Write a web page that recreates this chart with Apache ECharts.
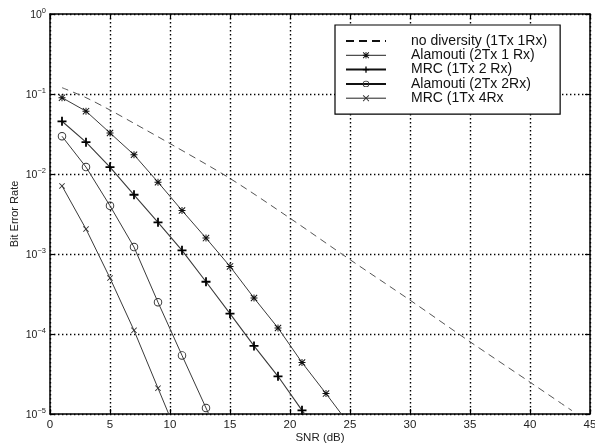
<!DOCTYPE html>
<html><head><meta charset="utf-8">
<script src="https://cdn.jsdelivr.net/npm/echarts@6/dist/echarts.min.js"></script>
<style>html,body{margin:0;padding:0;background:#fff}#c{width:595px;height:446px}</style>
</head><body><div id="c"></div>
<script>
// ---- data ----
const xTicks = [0, 5, 10, 15, 20, 25, 30, 35, 40, 45];
const yTickExponents = [0, -1, -2, -3, -4, -5];

const seriesNames = ['no diversity (1Tx 1Rx)', 'Alamouti (2Tx 1 Rx)', 'MRC (1Tx 2 Rx)', 'Alamouti (2Tx 2Rx)', 'MRC (1Tx 4Rx'];

const snrNoDiv = [1, 3, 5, 7, 10, 15, 20, 25, 30, 35, 40, 43.5];
const berNoDiv = [0.12, 0.09, 0.063, 0.043, 0.024, 0.0088, 0.0028, 0.00085, 0.000265, 0.00008, 0.000025, 0.000011];

const snrAla21 = [1, 3, 5, 7, 9, 11, 13, 15, 17, 19, 21, 23, 25];
const berAla21 = [0.09, 0.061, 0.0326, 0.0174, 0.0079, 0.0035, 0.00158, 0.0007, 0.000282, 0.000119, 0.000044, 0.000018, 0.0000072];

const snrMrc2 = [1, 3, 5, 7, 9, 11, 13, 15, 17, 19, 21, 23];
const berMrc2 = [0.0456, 0.025, 0.0122, 0.0055, 0.00249, 0.00111, 0.00045, 0.00018, 0.000071, 0.0000296, 0.0000111, 0.0000045];

const snrAla22 = [1, 3, 5, 7, 9, 11, 13, 15];
const berAla22 = [0.0296, 0.0122, 0.004, 0.00122, 0.000249, 0.000054, 0.0000119, 0.0000026];

const snrMrc4 = [1, 3, 5, 7, 9, 11];
const berMrc4 = [0.0071, 0.00205, 0.0005, 0.000111, 0.000021, 0.000004];

// ---- chart ----
const zip = (xs, ys) => xs.map((x, i) => [x, ys[i]]);
const FONT = '"Liberation Sans", Arial, Helvetica, sans-serif';
const LINE = '#3a3a3a';

const symPlus = 'path://M4,0H6V4H10V6H6V10H4V6H0V4H4Z';
const symX = 'path://M0,1L1,0L5,4L9,0L10,1L6,5L10,9L9,10L5,6L1,10L0,9L4,5Z';
const symStar = 'path://M4.3,0H5.7V10H4.3Z M0,4.3H10V5.7H0Z M1,0L10,9L9,10L0,1Z M9,0L10,1L1,10L0,9Z';
const symRing = 'path://M0,5A5,5 0 1,1 10,5A5,5 0 1,1 0,5Z M1.1,5A3.9,3.9 0 1,0 8.9,5A3.9,3.9 0 1,0 1.1,5Z';

const gridDots = { show: true, lineStyle: { color: '#000', width: 1.4, type: [1.4, 2.6] } };
const boxLine = { show: true, onZero: false, lineStyle: { color: '#000', width: 1.5 } };
const inTick = { show: true, inside: true, length: 5, lineStyle: { color: '#000', width: 1.2 } };

const chart = echarts.init(document.getElementById('c'), null, { renderer: 'canvas' });
chart.setOption({
  animation: false,
  backgroundColor: '#fff',
  textStyle: { fontFamily: FONT },
  grid: { left: 50, right: 5, top: 14, bottom: 32, containLabel: false, outerBoundsMode: 'none' },
  legend: {
    orient: 'vertical',
    left: 335, top: 25,
    padding: [9, 13, 9, 10],
    backgroundColor: '#fff',
    borderColor: '#000', borderWidth: 1.2,
    itemWidth: 40, itemHeight: 8, itemGap: 0.3,
    textStyle: { fontFamily: FONT, fontSize: 14, lineHeight: 14, color: '#111', padding: [0, 0, 0, 20] },
    data: [
      { name: seriesNames[0], itemStyle: { color: 'rgba(0,0,0,0)', borderColor: 'rgba(0,0,0,0)', borderWidth: 0 },
        lineStyle: { color: '#111', width: 2, type: [8, 5] } },
      { name: seriesNames[1], lineStyle: { color: '#222', width: 1 } },
      { name: seriesNames[2], lineStyle: { color: '#111', width: 2 } },
      { name: seriesNames[3], lineStyle: { color: '#111', width: 2 } },
      { name: seriesNames[4], lineStyle: { color: '#222', width: 1 } }
    ]
  },
  xAxis: [{
    type: 'value', min: 0, max: 45, interval: 5,
    name: 'SNR (dB)', nameLocation: 'middle', nameGap: 18, nameMoveOverlap: false,
    nameTextStyle: { fontFamily: FONT, fontSize: 11.5, color: '#222' },
    axisLine: boxLine, axisTick: inTick,
    axisLabel: { fontFamily: FONT, fontSize: 11.5, color: '#222', margin: 5,
      formatter: v => xTicks.includes(v) ? String(v) : '' },
    splitLine: gridDots
  }, {
    type: 'value', min: 0, max: 45, interval: 5, position: 'top',
    axisLine: boxLine, axisTick: inTick,
    axisLabel: { show: false }, splitLine: { show: false }
  }],
  yAxis: [{
    type: 'log', logBase: 10, min: 1e-5, max: 1,
    name: 'Bit Error Rate', nameLocation: 'middle', nameGap: 30, nameRotate: 90, nameMoveOverlap: false,
    nameTextStyle: { fontFamily: FONT, fontSize: 11, color: '#222' },
    axisLine: boxLine, axisTick: inTick,
    axisLabel: {
      margin: 4,
      formatter: v => {
        const e = Math.round(Math.log10(v));
        return yTickExponents.includes(e) ? '{b|10}{e|' + (e === 0 ? '0' : '\u2212' + Math.abs(e)) + '}' : '';
      },
      rich: {
        b: { fontFamily: FONT, fontSize: 10.5, color: '#222', verticalAlign: 'bottom', lineHeight: 14 },
        e: { fontFamily: FONT, fontSize: 7.5, color: '#222', verticalAlign: 'top', lineHeight: 14, padding: [0, 0, 7, 0] }
      }
    },
    splitLine: gridDots
  }, {
    type: 'log', logBase: 10, min: 1e-5, max: 1, position: 'right',
    axisLine: boxLine, axisTick: inTick,
    axisLabel: { show: false }, splitLine: { show: false }
  }],
  series: [
    { name: seriesNames[0], type: 'line', data: zip(snrNoDiv, berNoDiv), symbol: 'none', clip: true,
      lineStyle: { color: '#555', width: 1, type: [7, 5] }, itemStyle: { color: '#555' }, smooth: 0.3 },
    { name: seriesNames[1], type: 'line', data: zip(snrAla21, berAla21), symbol: symStar, symbolSize: 7, clip: true,
      lineStyle: { color: LINE, width: 1 }, itemStyle: { color: '#111' } },
    { name: seriesNames[2], type: 'line', data: zip(snrMrc2, berMrc2), symbol: symPlus, symbolSize: 9, clip: true,
      lineStyle: { color: LINE, width: 1.1 }, itemStyle: { color: '#000' } },
    { name: seriesNames[3], type: 'line', data: zip(snrAla22, berAla22), symbol: symRing, symbolSize: 8.5, clip: true,
      lineStyle: { color: LINE, width: 1 }, itemStyle: { color: '#333' } },
    { name: seriesNames[4], type: 'line', data: zip(snrMrc4, berMrc4), symbol: symX, symbolSize: 6, clip: true,
      lineStyle: { color: LINE, width: 1 }, itemStyle: { color: '#333' } }
  ]
});
</script></body></html>
